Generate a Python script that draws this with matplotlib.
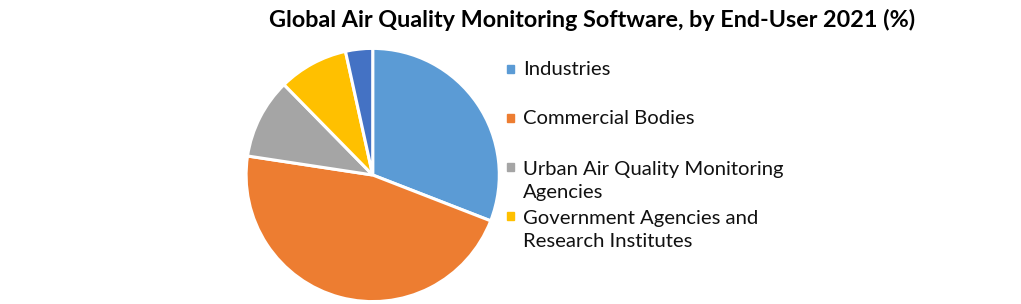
import matplotlib
matplotlib.use("Agg")
import matplotlib.pyplot as plt
from matplotlib.patches import Rectangle

categories = ["Industries", "Commercial Bodies", "Urban Air Quality Monitoring\nAgencies",
              "Government Agencies and\nResearch Institutes", "Others"]
values = [30.9, 46.5, 10.25, 8.9, 3.45]
colors = ["#5B9BD5", "#ED7D31", "#A5A5A5", "#FFC000", "#4472C4"]
title = "Global Air Quality Monitoring Software, by End-User 2021 (%)"

W, H = 1021, 304
fig = plt.figure(figsize=(W / 100, H / 100), dpi=100)
cx, cy, r = 372.7, 175.0, 126.6
ax = fig.add_axes([(cx - r) / W, (H - cy - r) / H, 2 * r / W, 2 * r / H])
ax.pie(values, colors=colors, startangle=90, counterclock=False, radius=1,
       wedgeprops=dict(edgecolor="white", linewidth=2.2))
ax.set_xlim(-1, 1)
ax.set_ylim(-1, 1)
ax.set_aspect("equal")
ax.axis("off")

fig.text(592.5 / W, 1 - 27 / H, title, ha="center", va="baseline",
         fontsize=16.8, fontweight="bold", family="Lato")

# legend (first four entries visible)
first_baselines = [75, 124, 173, 222]
line_gap = 25
for lab, col, yb in zip(categories[:4], colors[:4], first_baselines):
    nlines = lab.count("\n") + 1
    fig.patches.append(Rectangle((506.5 / W, 1 - (yb - 2.5) / H), 7.7 / W, 7.7 / H,
                                 transform=fig.transFigure, color=col))
    fig.text(523 / W, 1 - (yb + (nlines - 1) * line_gap) / H, lab, ha="left",
             va="baseline", fontsize=14.6, family="Lato", linespacing=1.45,
             color="#111111")

fig.savefig("out.png", dpi=100)
